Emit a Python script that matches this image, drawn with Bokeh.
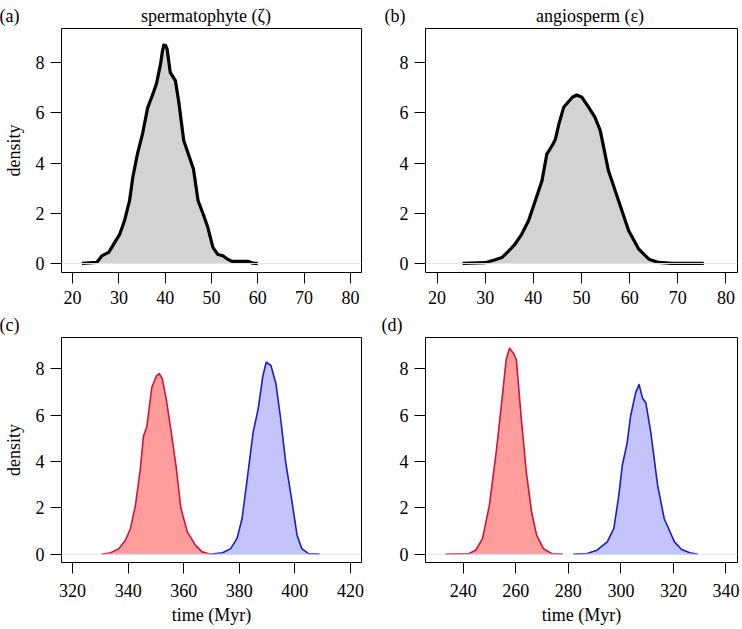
from bokeh.plotting import figure
from bokeh.layouts import gridplot
from bokeh.models import Range1d, FixedTicker, Span, Title
from bokeh.embed import file_html
from bokeh.resources import INLINE

FONT = "Liberation Serif"
FS = "18px"

# ---------------- data ----------------
a_x = [22.0, 25.2, 26.3, 27.0, 27.8, 29.1, 30.2, 31.2, 32.3, 33.0, 34.0, 35.1, 36.2, 37.2, 38.1,
       39.0, 39.4, 39.7, 40.1, 40.4, 41.1, 42.2, 42.9, 44.0, 45.0, 46.1, 47.1, 48.2, 49.2, 50.3,
       51.3, 52.4, 53.5, 54.4, 56.6, 58.0, 58.9, 60.0]
a_y = [0.0, 0.04, 0.3, 0.37, 0.44, 0.84, 1.17, 1.7, 2.5, 3.43, 4.36, 5.16, 6.2, 6.68, 7.15,
       7.95, 8.45, 8.7, 8.68, 8.55, 7.6, 7.28, 6.48, 4.9, 4.36, 3.76, 2.5, 1.97, 1.44, 0.64,
       0.37, 0.31, 0.17, 0.08, 0.08, 0.08, 0.01, 0.0]

b_x = [25.3, 30.0, 32.1, 33.5, 34.9, 36.2, 37.6, 39.0, 40.4, 41.8, 42.8, 43.9, 44.6, 45.3, 46.3,
       48.1, 49.0, 50.1, 51.5, 52.8, 53.9, 55.6, 57.7, 59.8, 61.9, 64.0, 66.0, 68.8, 75.4]
b_y = [0.0, 0.03, 0.15, 0.24, 0.5, 0.77, 1.17, 1.7, 2.5, 3.3, 4.36, 4.69, 4.96, 5.55, 6.22,
       6.62, 6.71, 6.62, 6.22, 5.82, 5.29, 3.69, 2.5, 1.3, 0.57, 0.17, 0.04, 0.0, 0.0]

c_red_x = [330.4, 333.7, 336.7, 339.0, 340.8, 342.6, 344.4, 345.5, 346.7, 348.5, 350.2, 351.2,
           352.3, 353.7, 355.5, 357.2, 359.0, 361.3, 364.2, 366.6, 369.8]
c_red_y = [0.0, 0.06, 0.24, 0.6, 1.1, 2.1, 3.7, 5.1, 5.5, 7.2, 7.7, 7.8,
           7.57, 6.7, 5.27, 3.84, 1.97, 0.96, 0.39, 0.1, 0.0]
c_blue_x = [369.9, 374.0, 376.9, 379.2, 381.0, 382.7, 385.0, 386.8, 388.5, 389.7, 391.4, 393.2,
            394.9, 396.7, 399.0, 400.8, 402.5, 404.8, 408.9]
c_blue_y = [0.0, 0.06, 0.24, 0.68, 1.54, 3.1, 5.27, 6.27, 7.7, 8.29, 8.15, 7.36,
            5.85, 3.98, 2.26, 0.82, 0.24, 0.03, 0.0]

d_red_x = [233.2, 242.2, 244.7, 247.3, 249.9, 252.5, 255.0, 256.3, 257.6, 259.1, 260.2, 262.1,
           264.0, 266.0, 267.9, 270.5, 273.6, 277.9]
d_red_y = [0.0, 0.03, 0.17, 0.67, 2.1, 4.39, 6.97, 8.4, 8.9, 8.68, 8.4, 5.82,
           3.53, 1.82, 0.82, 0.24, 0.03, 0.0]
d_blue_x = [281.9, 287.1, 290.9, 294.8, 297.3, 299.2, 300.5, 302.4, 303.7, 305.6, 306.9, 308.2,
            309.5, 311.4, 314.0, 316.5, 320.4, 323.0, 326.2, 329.4]
d_blue_y = [0.0, 0.03, 0.17, 0.53, 1.1, 2.53, 3.82, 4.82, 5.97, 6.97, 7.33, 6.75,
            6.54, 5.25, 2.96, 1.53, 0.53, 0.21, 0.06, 0.0]

y_ticks = [0, 2, 4, 6, 8]
ab_ticks = [20, 30, 40, 50, 60, 70, 80]
c_ticks = [320, 340, 360, 380, 400, 420]
d_ticks = [240, 260, 280, 300, 320, 340]

panel_letters = ["(a)", "(b)", "(c)", "(d)"]
title_a = "spermatophyte (\u03b6)"
title_b = "angiosperm (\u03b5)"

RED_FILL, RED_LINE = "#FF9C9C", "#D0143A"
BLUE_FILL, BLUE_LINE = "#C4C4FC", "#1A1AD6"
NBSP = "\u00a0"


def make_fig(width, height, bl, bt, br, bb, xr, xticks, ylabel=None, xlabel=None):
    p = figure(width=width, height=height, output_backend="svg", toolbar_location=None,
               x_range=Range1d(*xr), y_range=Range1d(-0.36, 9.36),
               min_border_left=bl, min_border_top=bt, min_border_right=br, min_border_bottom=bb)
    p.grid.visible = False
    p.outline_line_color = "black"
    p.outline_line_width = 1
    p.outline_line_alpha = 1
    p.background_fill_color = "white"
    p.border_fill_color = "white"
    for ax in (p.xaxis[0], p.yaxis[0]):
        ax.axis_line_color = None
        ax.major_tick_out = 11
        ax.major_tick_in = 0
        ax.minor_tick_line_color = None
        ax.major_tick_line_color = "black"
        ax.major_label_text_font = FONT
        ax.major_label_text_font_size = FS
        ax.major_label_text_color = "black"
        ax.axis_label_text_font = FONT
        ax.axis_label_text_font_size = FS
        ax.axis_label_text_font_style = "normal"
        ax.axis_label_text_color = "black"
    p.xaxis[0].ticker = FixedTicker(ticks=xticks)
    p.yaxis[0].ticker = FixedTicker(ticks=y_ticks)
    p.xaxis[0].major_label_standoff = 7
    p.yaxis[0].major_label_standoff = 6
    if ylabel:
        p.yaxis[0].axis_label = ylabel
        p.yaxis[0].axis_label_standoff = 9
    if xlabel:
        p.xaxis[0].axis_label = xlabel
        p.xaxis[0].major_label_standoff = 10
        p.xaxis[0].axis_label_standoff = 5
    p.add_layout(Span(location=0, dimension="width", line_color="#e4e4e4", line_width=1))
    return p


def head(p, text, offset, standoff=6):
    p.add_layout(Title(text=text, align="left", offset=offset, text_font=FONT,
                       text_font_size=FS, text_font_style="normal", text_color="black",
                       standoff=standoff), "above")


def gray_density(p, xs, ys):
    p.varea(x=xs, y1=[0] * len(xs), y2=ys, fill_color="#D3D3D3")
    p.line(xs, ys, line_color="black", line_width=3.2, line_join="round")


def colored_density(p, xs, ys, fill, line):
    p.varea(x=xs, y1=[0] * len(xs), y2=ys, fill_color=fill)
    p.line([xs[0], xs[-1]], [0, 0], line_color="#8a8ad6", line_width=1, line_alpha=0.7)
    p.line(xs, ys, line_color=line, line_width=1.6, line_join="round")


LW, RW = 371, 371
TH, BH = 310, 319

pa = make_fig(LW, TH, 56, 28, 10, 38, (17.6, 82.4), ab_ticks, ylabel="density")
gray_density(pa, a_x, a_y)
head(pa, panel_letters[0] + NBSP * 27 + title_a, -62)

pb = make_fig(RW, TH, 54, 28, 5, 38, (17.6, 82.4), ab_ticks)
gray_density(pb, b_x, b_y)
head(pb, panel_letters[1] + NBSP * 29 + title_b, -41)

pc = make_fig(LW, BH, 56, 27, 10, 67, (316, 424), c_ticks, ylabel="density", xlabel="time (Myr)")
colored_density(pc, c_red_x, c_red_y, RED_FILL, RED_LINE)
colored_density(pc, c_blue_x, c_blue_y, BLUE_FILL, BLUE_LINE)
head(pc, panel_letters[2], -62, standoff=5)

pd = make_fig(RW, BH, 54, 27, 5, 67, (225.6, 344.4), d_ticks, xlabel="time (Myr)")
colored_density(pd, d_red_x, d_red_y, RED_FILL, RED_LINE)
colored_density(pd, d_blue_x, d_blue_y, BLUE_FILL, BLUE_LINE)
head(pd, panel_letters[3], -44, standoff=5)

grid = gridplot([[pa, pb], [pc, pd]], toolbar_location=None)

open("out.html", "w").write(file_html(grid, INLINE))
